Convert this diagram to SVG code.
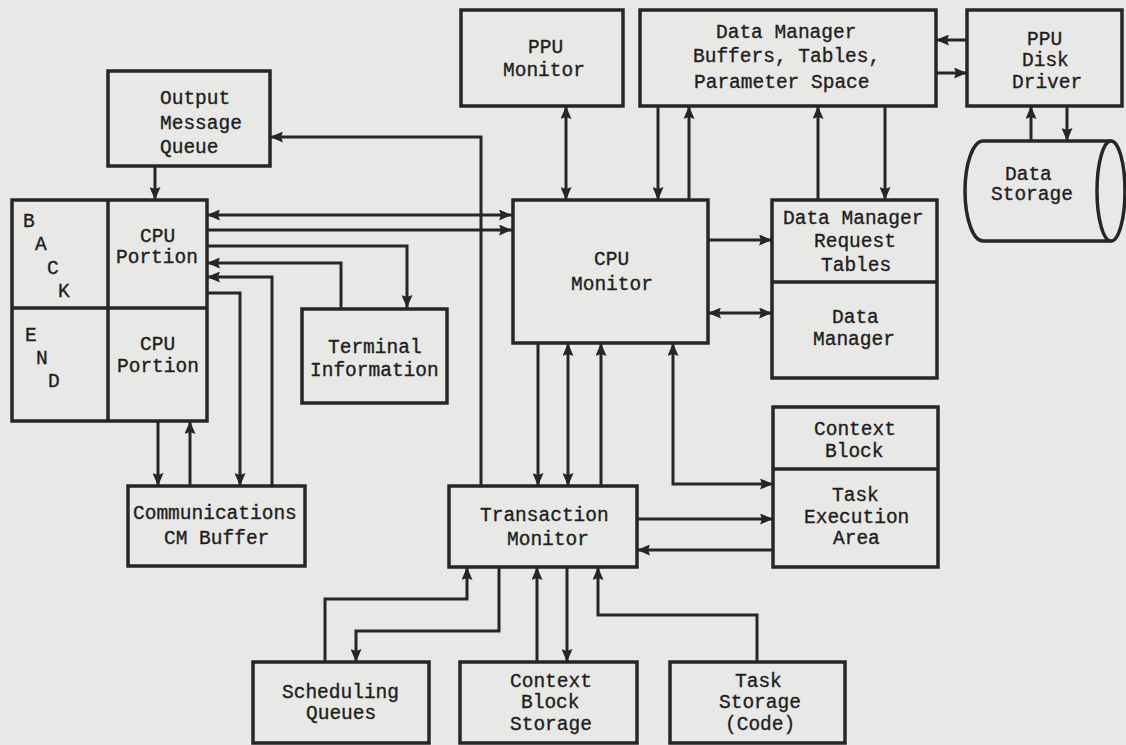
<svg xmlns="http://www.w3.org/2000/svg" width="1126" height="745" viewBox="0 0 1126 745">
<style>
.box{fill:none;stroke:#262626;stroke-width:3.5}
.ln{fill:none;stroke:#262626;stroke-width:3}
.c{fill:none;stroke:#262626;stroke-width:3;marker-end:url(#ah)}
.b{fill:none;stroke:#262626;stroke-width:3;marker-start:url(#ah);marker-end:url(#ah)}
text{font-family:"Liberation Mono","DejaVu Sans Mono",monospace;font-size:19.5px;fill:#1e1e1e;stroke:#1e1e1e;stroke-width:0.35}
</style>
<defs>
<marker id="ah" viewBox="0 0 13 11" refX="13" refY="5.5" markerWidth="13" markerHeight="11" markerUnits="userSpaceOnUse" orient="auto-start-reverse">
<path d="M0,0 L13,5.5 L0,11 L2,5.5 z" fill="#262626"/>
</marker>
</defs>
<rect width="1126" height="745" fill="#e8e8e6"/>

<g id="output-message-queue">
<rect class="box" x="108" y="71" width="162" height="95"/>
<text x="160" y="104">Output</text>
<text x="160" y="129">Message</text>
<text x="160" y="153">Queue</text>
</g>

<g id="backend">
<rect class="box" x="12" y="200" width="195" height="221"/>
<line class="box" x1="108" y1="200" x2="108" y2="421"/>
<line class="box" x1="12" y1="308" x2="207" y2="308"/>
<text x="23" y="227">B</text>
<text x="35" y="250">A</text>
<text x="47" y="274">C</text>
<text x="58" y="297">K</text>
<text x="25" y="341">E</text>
<text x="36" y="364">N</text>
<text x="48" y="387">D</text>
<text x="140" y="242">CPU</text>
<text x="116" y="263">Portion</text>
<text x="140" y="350">CPU</text>
<text x="117" y="372">Portion</text>
</g>

<g id="terminal-information">
<rect class="box" x="302" y="309" width="145" height="94"/>
<text x="328" y="353">Terminal</text>
<text x="310" y="376">Information</text>
</g>

<g id="communications-cm-buffer">
<rect class="box" x="128" y="486" width="177" height="80"/>
<text x="133" y="519">Communications</text>
<text x="164" y="544">CM Buffer</text>
</g>

<g id="ppu-monitor">
<rect class="box" x="461" y="10" width="162" height="96"/>
<text x="528" y="53">PPU</text>
<text x="503" y="76">Monitor</text>
</g>

<g id="data-manager-buffers">
<rect class="box" x="640" y="10" width="296" height="96"/>
<text x="716" y="38">Data Manager</text>
<text x="693" y="62">Buffers, Tables,</text>
<text x="694" y="88">Parameter Space</text>
</g>

<g id="ppu-disk-driver">
<rect class="box" x="967" y="10" width="155" height="96"/>
<text x="1027" y="45">PPU</text>
<text x="1022" y="66">Disk</text>
<text x="1012" y="88">Driver</text>
</g>

<g id="data-storage">
<path class="box" d="M983,141 H1111 M983,141 A18,50 0 0 0 983,241 H1111"/>
<ellipse class="box" cx="1111" cy="191" rx="14" ry="50"/>
<text x="1005" y="180">Data</text>
<text x="991" y="200">Storage</text>
</g>

<g id="cpu-monitor">
<rect class="box" x="513" y="200" width="195" height="143"/>
<text x="594" y="265">CPU</text>
<text x="571" y="290">Monitor</text>
</g>

<g id="data-manager">
<rect class="box" x="772" y="200" width="165" height="178"/>
<line class="box" x1="772" y1="282" x2="937" y2="282"/>
<text x="783" y="224">Data Manager</text>
<text x="814" y="247">Request</text>
<text x="821" y="271">Tables</text>
<text x="832" y="323">Data</text>
<text x="813" y="345">Manager</text>
</g>

<g id="task-execution-area">
<rect class="box" x="773" y="407" width="165" height="160"/>
<line class="box" x1="773" y1="469" x2="938" y2="469"/>
<text x="814" y="435">Context</text>
<text x="825" y="457">Block</text>
<text x="832" y="501">Task</text>
<text x="804" y="523">Execution</text>
<text x="833" y="544">Area</text>
</g>

<g id="transaction-monitor">
<rect class="box" x="449" y="486" width="188" height="81"/>
<text x="480" y="521">Transaction</text>
<text x="507" y="545">Monitor</text>
</g>

<g id="scheduling-queues">
<rect class="box" x="253" y="662" width="176" height="81"/>
<text x="282" y="698">Scheduling</text>
<text x="306" y="719">Queues</text>
</g>

<g id="context-block-storage">
<rect class="box" x="460" y="662" width="177" height="81"/>
<text x="510" y="687">Context</text>
<text x="521" y="708">Block</text>
<text x="510" y="730">Storage</text>
</g>

<g id="task-storage">
<rect class="box" x="670" y="662" width="175" height="81"/>
<text x="735" y="687">Task</text>
<text x="719" y="708">Storage</text>
<text x="725" y="730">(Code)</text>
</g>

<g id="connectors">
<path class="c" d="M155,166 V200"/>
<path class="b" d="M512,215 H207"/>
<path class="c" d="M207,230 H512"/>
<path class="c" d="M207,246 H407 V308"/>
<path class="c" d="M341,308 V263 H207"/>
<path class="c" d="M272,486 V277 H207"/>
<path class="c" d="M207,293 H240 V486"/>
<path class="c" d="M158,421 V486"/>
<path class="c" d="M190,486 V421"/>
<path class="c" d="M481,486 V137 H270"/>
<path class="b" d="M566,106 V200"/>
<path class="c" d="M658,106 V200"/>
<path class="c" d="M689,200 V106"/>
<path class="c" d="M967,40 H936"/>
<path class="c" d="M936,73 H967"/>
<path class="c" d="M1031,141 V106"/>
<path class="c" d="M1067,106 V141"/>
<path class="c" d="M818,200 V106"/>
<path class="c" d="M885,106 V200"/>
<path class="c" d="M708,240 H772"/>
<path class="b" d="M708,313 H772"/>
<path class="b" d="M673,343 V484 H773"/>
<path class="c" d="M538,343 V486"/>
<path class="b" d="M568,343 V486"/>
<path class="c" d="M601,486 V343"/>
<path class="c" d="M637,519 H773"/>
<path class="c" d="M773,550 H637"/>
<path class="c" d="M325,662 V599 H467 V567"/>
<path class="c" d="M499,567 V631 H356 V662"/>
<path class="c" d="M537,662 V567"/>
<path class="c" d="M567,567 V662"/>
<path class="c" d="M757,662 V615 H598 V567"/>
</g>
</svg>
